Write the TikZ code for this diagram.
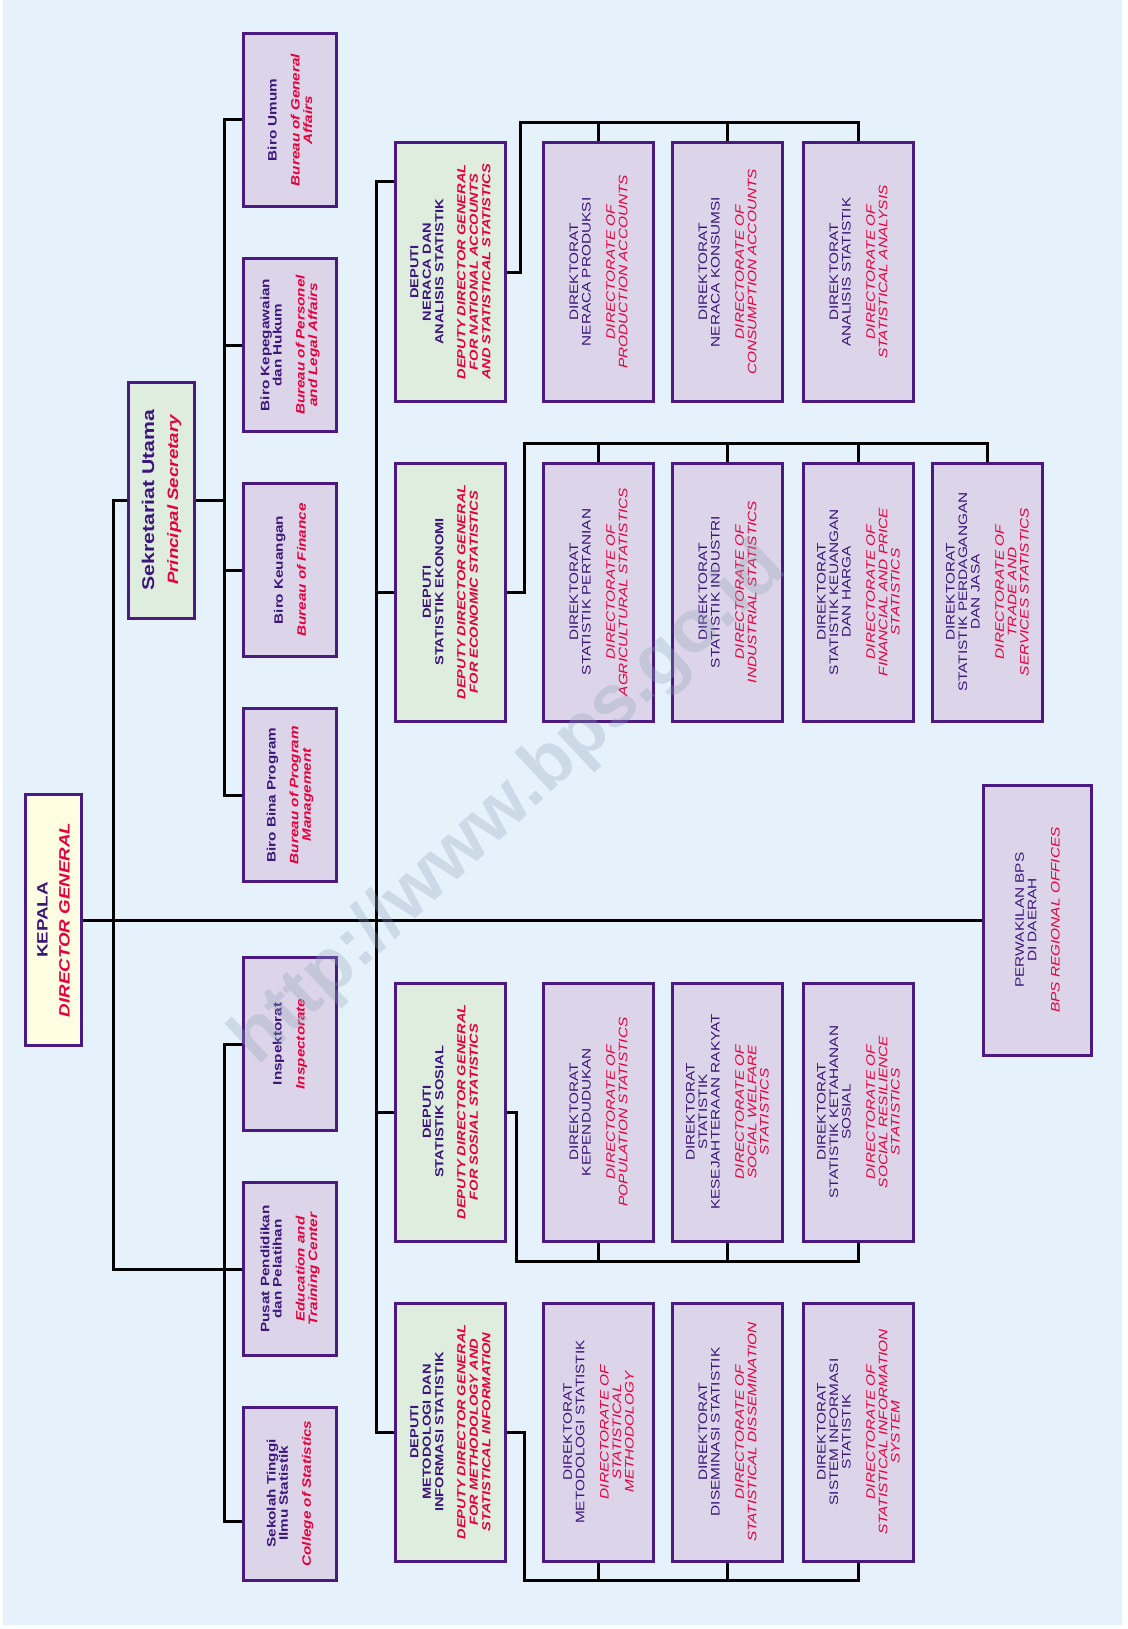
\documentclass[tikz,border=0pt]{standalone}
\usepackage{fontspec}
\newfontfamily\chartfont{Liberation Sans}[FakeStretch=1.25]
\newfontfamily\markfont{Liberation Sans}

\definecolor{bpssky}{HTML}{E6F2FB}
\definecolor{bpslilac}{HTML}{DCD4E8}
\definecolor{bpsmint}{HTML}{DFEDDF}
\definecolor{bpscream}{HTML}{FFFDE2}
\definecolor{bpsframe}{HTML}{4A1A82}
\definecolor{bpsink}{HTML}{3C167A}
\definecolor{bpsred}{HTML}{E6003C}
\definecolor{bpswater}{HTML}{8FA3B8}

\newcommand{\engl}[1]{{\color{bpsred}\itshape #1}}

\tikzset{
  unit/.style={draw=bpsframe, line width=3pt, rotate=90, align=center, inner sep=0pt, text=bpsink},
  chief/.style={unit, fill=bpscream, minimum width=251pt, minimum height=56pt, font={\chartfont\bfseries\fontsize{15}{18}\selectfont}},
  sekretaris/.style={unit, fill=bpsmint, minimum width=236pt, minimum height=66pt, font={\chartfont\bfseries\fontsize{17}{20}\selectfont}},
  biro/.style={unit, fill=bpslilac, minimum width=173pt, minimum height=93pt, font={\chartfont\bfseries\fontsize{12.2}{12.4}\selectfont}},
  deputi/.style={unit, fill=bpsmint, minimum width=258pt, minimum height=110pt, font={\chartfont\bfseries\fontsize{11.7}{12.5}\selectfont}},
  direktorat/.style={unit, fill=bpslilac, minimum width=258pt, minimum height=110pt, font={\chartfont\fontsize{12.3}{12.4}\selectfont}},
  link/.style={line width=3pt, black}
}

\begin{document}
\begin{tikzpicture}[x=1pt,y=-1pt]
  \useasboundingbox (0,0) rectangle (1127,1629);
  \fill [bpssky] (3,0) rectangle (1122,1625);

  \node [chief] (kepala) at (53.5,920) {KEPALA\\[4pt]\engl{DIRECTOR GENERAL}};
  \node [direktorat, minimum width=270pt, minimum height=108pt] (perwakilan) at (1037.5,920) {PERWAKILAN BPS\\DI DAERAH\\[11pt]\engl{BPS REGIONAL OFFICES}};
  \node [sekretaris] (sekretariat) at (161.5,500) {Sekretariat Utama\\[4pt]\engl{\fontsize{15}{18}\selectfont Principal Secretary}};

  % biro
  \node [biro] (umum) at (290,120) {Biro Umum\\[10.5pt]\engl{Bureau of General}\\\engl{Affairs}};
  \node [biro] (kepeg) at (290,345) {Biro Kepegawaian\\dan Hukum\\[10.5pt]\engl{Bureau of Personel}\\\engl{and Legal Affairs}};
  \node [biro] (keu) at (290,570) {Biro Keuangan\\[10.5pt]\engl{Bureau of Finance}};
  \node [biro] (bina) at (290,795) {Biro Bina Program\\[10.5pt]\engl{Bureau of Program}\\\engl{Management}};
  \node [biro] (inspektorat) at (290,1044) {Inspektorat\\[10.5pt]\engl{Inspectorate}};
  \node [biro] (pusat) at (290,1269) {Pusat Pendidikan\\dan Pelatihan\\[10.5pt]\engl{Education and}\\\engl{Training Center}};
  \node [biro] (sekolah) at (290,1493.5) {Sekolah Tinggi\\Ilmu Statistik\\[10.5pt]\engl{College of Statistics}};

  % deputi
  \node [deputi] (dnas) at (450.5,272) {DEPUTI\\NERACA DAN\\ANALISIS STATISTIK\\[9.5pt]\engl{DEPUTY DIRECTOR GENERAL}\\\engl{FOR NATIONAL ACCOUNTS}\\\engl{AND STATISTICAL STATISTICS}};
  \node [deputi] (deko) at (450.5,592) {DEPUTI\\STATISTIK EKONOMI\\[9.5pt]\engl{DEPUTY DIRECTOR GENERAL}\\\engl{FOR ECONOMIC STATISTICS}};
  \node [deputi] (dsos) at (450.5,1112) {DEPUTI\\STATISTIK SOSIAL\\[9.5pt]\engl{DEPUTY DIRECTOR GENERAL}\\\engl{FOR SOSIAL STATISTICS}};
  \node [deputi] (dmet) at (450.5,1432) {DEPUTI\\METODOLOGI DAN\\INFORMASI STATISTIK\\[9.5pt]\engl{DEPUTY DIRECTOR GENERAL}\\\engl{FOR METHODOLOGY AND}\\\engl{STATISTICAL INFORMATION}};

  % direktorat
  \node [direktorat] (na1) at (598.5,272) {DIREKTORAT\\NERACA PRODUKSI\\[12pt]\engl{DIRECTORATE OF}\\\engl{PRODUCTION ACCOUNTS}};
  \node [direktorat] (na2) at (727.5,272) {DIREKTORAT\\NERACA KONSUMSI\\[12pt]\engl{DIRECTORATE OF}\\\engl{CONSUMPTION ACCOUNTS}};
  \node [direktorat] (na3) at (858.5,272) {DIREKTORAT\\ANALISIS STATISTIK\\[12pt]\engl{DIRECTORATE OF}\\\engl{STATISTICAL ANALYSIS}};
  \node [direktorat] (ek1) at (598.5,592) {DIREKTORAT\\STATISTIK PERTANIAN\\[12pt]\engl{DIRECTORATE OF}\\\engl{AGRICULTURAL STATISTICS}};
  \node [direktorat] (ek2) at (727.5,592) {DIREKTORAT\\STATISTIK INDUSTRI\\[12pt]\engl{DIRECTORATE OF}\\\engl{INDUSTRIAL STATISTICS}};
  \node [direktorat] (ek3) at (858.5,592) {DIREKTORAT\\STATISTIK KEUANGAN\\DAN HARGA\\[12pt]\engl{DIRECTORATE OF}\\\engl{FINANCIAL AND PRICE}\\\engl{STATISTICS}};
  \node [direktorat] (ek4) at (987.5,592) {DIREKTORAT\\STATISTIK PERDAGANGAN\\DAN JASA\\[12pt]\engl{DIRECTORATE OF}\\\engl{TRADE AND}\\\engl{SERVICES STATISTICS}};
  \node [direktorat] (so1) at (598.5,1112) {DIREKTORAT\\KEPENDUDUKAN\\[12pt]\engl{DIRECTORATE OF}\\\engl{POPULATION STATISTICS}};
  \node [direktorat] (so2) at (727.5,1112) {DIREKTORAT\\STATISTIK\\KESEJAHTERAAN RAKYAT\\[12pt]\engl{DIRECTORATE OF}\\\engl{SOCIAL WELFARE}\\\engl{STATISTICS}};
  \node [direktorat] (so3) at (858.5,1112) {DIREKTORAT\\STATISTIK KETAHANAN\\SOSIAL\\[12pt]\engl{DIRECTORATE OF}\\\engl{SOCIAL RESILIENCE}\\\engl{STATISTICS}};
  \node [direktorat] (me1) at (598.5,1432) {DIREKTORAT\\METODOLOGI STATISTIK\\[12pt]\engl{DIRECTORATE OF}\\\engl{STATISTICAL}\\\engl{METHODOLOGY}};
  \node [direktorat] (me2) at (727.5,1432) {DIREKTORAT\\DISEMINASI STATISTIK\\[12pt]\engl{DIRECTORATE OF}\\\engl{STATISTICAL DISSEMINATION}};
  \node [direktorat] (me3) at (858.5,1432) {DIREKTORAT\\SISTEM INFORMASI\\STATISTIK\\[12pt]\engl{DIRECTORATE OF}\\\engl{STATISTICAL INFORMATION}\\\engl{SYSTEM}};

  % junctions
  \coordinate (jl) at (113,920);
  \coordinate (jd) at (376,920);
  \coordinate (jbu) at (224,500);
  \coordinate (jbl) at (224,1269);
  \coordinate (sekolahIn) at ([yshift=-28pt]sekolah.north);
  \coordinate (dnasIn) at ([yshift=90pt]dnas.north);
  \coordinate (bna) at (520,123);
  \coordinate (bek) at (524,443);
  \coordinate (bso) at (516,1261);
  \coordinate (bme) at (524,1580);

  \draw [link] (kepala) -- (perwakilan);
  \draw [link] (sekretariat) -| (jl) |- (pusat);
  \draw [link] (sekretariat) -- (jbu);
  \draw [link] (umum) -| (jbu) |- (bina);
  \draw [link] (kepeg) -| (jbu);
  \draw [link] (keu) -| (jbu);
  \draw [link] (inspektorat) -| (jbl) |- (sekolahIn);
  \draw [link] (dnasIn) -| (jd) |- (dmet);
  \draw [link] (deko) -| (jd);
  \draw [link] (dsos) -| (jd);

  \draw [link] (dnas) -| (bna) -| (na3);
  \draw [link] (bna) -| (na1);
  \draw [link] (bna) -| (na2);
  \draw [link] (deko) -| (bek) -| (ek4);
  \draw [link] (bek) -| (ek1);
  \draw [link] (bek) -| (ek2);
  \draw [link] (bek) -| (ek3);
  \draw [link] (dsos) -| (bso) -| (so3);
  \draw [link] (bso) -| (so1);
  \draw [link] (bso) -| (so2);
  \draw [link] (dmet) -| (bme) -| (me3);
  \draw [link] (bme) -| (me1);
  \draw [link] (bme) -| (me2);

  \node [rotate=43, text=bpswater, opacity=0.3, font={\markfont\bfseries\fontsize{74}{74}\selectfont}] (watermark) at (510,805) {http://www.bps.go.id};
\end{tikzpicture}
\end{document}
